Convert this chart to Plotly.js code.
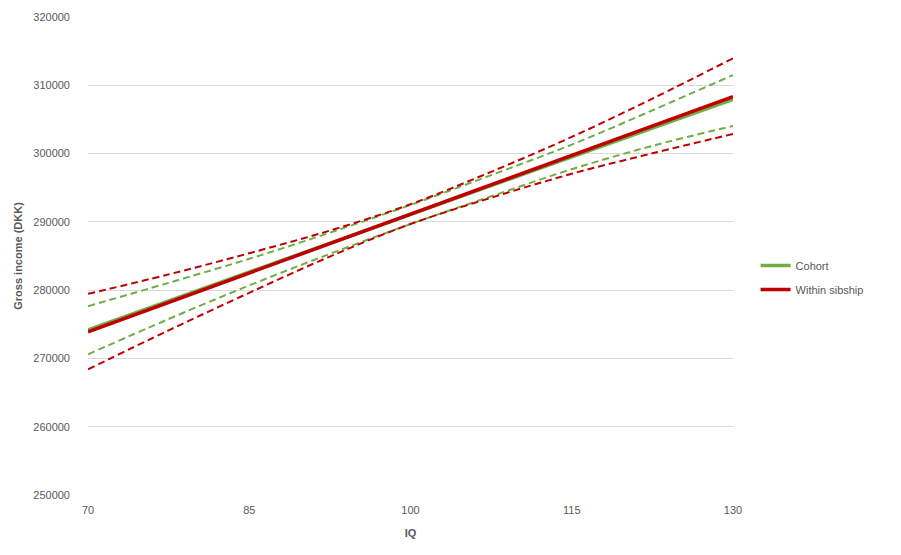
<!DOCTYPE html>
<html>
<head>
<meta charset="utf-8">
<script src="https://cdn.plot.ly/plotly-3.0.1.min.js"></script>
<style>html,body{margin:0;padding:0;background:#fff;}#chart{width:901px;height:555px;}</style>
</head>
<body>
<div id="chart"></div>
<script>
// IQ points for the estimate lines (straight lines)
const iq = [70, 130];
// IQ points for the confidence bands
const iqBand = [70, 77.5, 85, 92.5, 100, 107.5, 115, 122.5, 130];

// Cohort estimate and confidence band (DKK)
const cohort = [274200, 307950];
const cohortUpper = [277650, 281070, 284590, 288410, 292480, 296840, 301310, 306330, 311500];
const cohortLower = [270600, 275770, 280690, 285310, 289680, 293740, 297710, 301130, 304050];

// Within sibship estimate and confidence band (DKK)
const sibship = [273900, 308350];
const sibshipUpper = [279450, 282310, 285410, 288720, 292580, 297330, 302440, 308040, 313950];
const sibshipLower = [268400, 274110, 279610, 284920, 289680, 293530, 297040, 300040, 302870];

const xTicks = [70, 85, 100, 115, 130];
const yTicks = [250000, 260000, 270000, 280000, 290000, 300000, 310000, 320000];

const green = '#70AD47';
const red = '#C00000';
const dash = '7px,4px';

function band(y, color) {
  return {x: iqBand, y: y, mode: 'lines', line: {color: color, width: 2, dash: dash, shape: 'spline', smoothing: 1},
          showlegend: false, hoverinfo: 'skip'};
}

const traces = [
  band(cohortUpper, green),
  band(cohortLower, green),
  band(sibshipUpper, red),
  band(sibshipLower, red),
  {x: iq, y: cohort, mode: 'lines', name: 'Cohort', legendgroup: 'c', line: {color: green, width: 3.5}},
  {x: iq, y: sibship, mode: 'lines', name: 'Within sibship', legendgroup: 's', line: {color: red, width: 3.5}}
];

const fam = 'Liberation Sans, Arial, sans-serif';
const tickFont = {family: fam, size: 11, color: '#595959'};

const layout = {
  width: 901, height: 555,
  margin: {l: 88, r: 168, t: 17, b: 60},
  paper_bgcolor: '#ffffff', plot_bgcolor: '#ffffff',
  showlegend: true,
  legend: {x: 1.035, xanchor: 'left', y: 0.455, yanchor: 'middle',
           font: {family: fam, size: 11, color: '#595959'},
           traceorder: 'grouped', tracegroupgap: 5, itemwidth: 30, bgcolor: 'rgba(0,0,0,0)'},
  xaxis: {
    range: [70, 130], tickvals: xTicks, ticktext: xTicks.map(String),
    showgrid: false, zeroline: false, showline: false, ticks: '',
    tickfont: tickFont, ticklabelstandoff: 7,
    title: {text: '<b>IQ</b>', font: {family: fam, size: 11, color: '#595959'}, standoff: 14}
  },
  yaxis: {
    range: [250000, 320000], tickvals: yTicks, ticktext: yTicks.map(String),
    showgrid: true, gridcolor: '#D9D9D9', gridwidth: 1, zeroline: false, showline: false, ticks: '',
    tickfont: tickFont, ticklabelstandoff: 17,
    title: {text: '<b>Gross income (DKK)</b>', font: {family: fam, size: 11, color: '#595959'}, standoff: 8}
  }
};

Plotly.newPlot('chart', traces, layout, {displayModeBar: false, staticPlot: true});
</script>
</body>
</html>
